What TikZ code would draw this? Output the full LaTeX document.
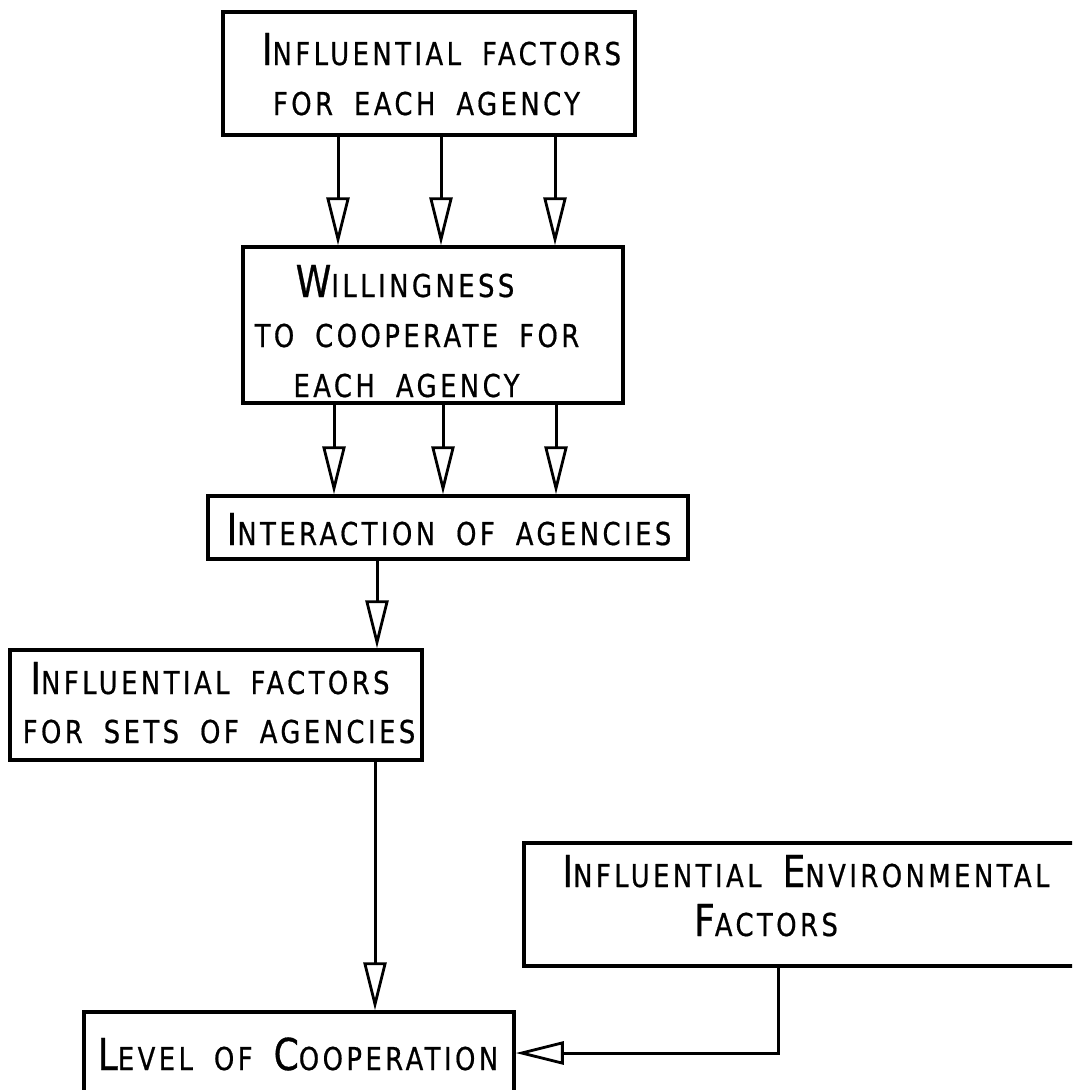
\documentclass[tikz,border=0pt]{standalone}
\usepackage{fontspec}
\setmainfont{DejaVu Sans}[FakeStretch=0.82, LetterSpace=11, WordSpace=1.8, FakeBold=0.6]
\usetikzlibrary{arrows.meta}
\newcommand\Cp[1]{{\fontsize{44}{44}\selectfont #1}}
\tikzset{
  box/.style={draw, line width=3.5pt, inner sep=0pt, rectangle},
  lbl/.style={inner sep=0pt, anchor=base, font=\fontsize{31.5}{31.5}\selectfont},
  flow/.style={line width=3pt, -{Triangle[open, length=48pt, width=23pt, line width=2.8pt]}},
}
\begin{document}
\begin{tikzpicture}[x=1pt, y=-1pt]
\useasboundingbox (0,0) rectangle (1072,1090);
\clip (0,0) rectangle (1072,1090);
% boxes
\node[box, minimum width=412pt, minimum height=123pt] (b1) at (429,73.5) {};
\node[box, minimum width=380pt, minimum height=156pt] (b2) at (433,325) {};
\node[box, minimum width=480pt, minimum height=63pt] (b3) at (448,527.5) {};
\node[box, minimum width=412pt, minimum height=110pt] (b4) at (216,705) {};
\node[box, minimum width=566pt, minimum height=123pt] (b5) at (807,904.5) {};
\node[box, minimum width=430pt, minimum height=82pt] (b6) at (299,1053) {};
% labels
\node[lbl] (t1a) at (441.5,65) {\Cp{I}NFLUENTIAL FACTORS};
\node[lbl] (t1b) at (426.5,115) {FOR EACH AGENCY};
\node[lbl] (t2a) at (405,297) {\Cp{W}ILLINGNESS};
\node[lbl] (t2b) at (417,347) {TO COOPERATE FOR};
\node[lbl] (t2c) at (406.5,397) {EACH AGENCY};
\node[lbl] (t3) at (449,545) {\Cp{I}NTERACTION OF AGENCIES};
\node[lbl] (t4a) at (210,694) {\Cp{I}NFLUENTIAL FACTORS};
\node[lbl] (t4b) at (219,743) {FOR SETS OF AGENCIES};
\node[lbl] (t5a) at (806,887) {\Cp{I}NFLUENTIAL \Cp{E}NVIRONMENTAL};
\node[lbl] (t5b) at (766,936) {\Cp{F}ACTORS};
\node[lbl] (t6) at (298,1070) {\Cp{L}EVEL OF \Cp{C}OOPERATION};
% guide coordinates for connector columns
\coordinate (c1) at (338,0);
\coordinate (c2) at (441,0);
\coordinate (c3) at (555,0);
\coordinate (d1) at (334,0);
\coordinate (d2) at (443,0);
\coordinate (d3) at (556,0);
\coordinate (e1) at (377,0);
\coordinate (e2) at (375,0);
\coordinate (e3) at (778,0);
% connectors
\draw[flow] (b1.south -| c1) -- (b2.north -| c1);
\draw[flow] (b1.south -| c2) -- (b2.north -| c2);
\draw[flow] (b1.south -| c3) -- (b2.north -| c3);
\draw[flow] (b2.south -| d1) -- (b3.north -| d1);
\draw[flow] (b2.south -| d2) -- (b3.north -| d2);
\draw[flow] (b2.south -| d3) -- (b3.north -| d3);
\draw[flow] (b3.south -| e1) -- (b4.north -| e1);
\draw[flow] (b4.south -| e2) -- (b6.north -| e2);
\draw[flow] (b5.south -| e3) |- (b6.east);
\end{tikzpicture}
\end{document}
